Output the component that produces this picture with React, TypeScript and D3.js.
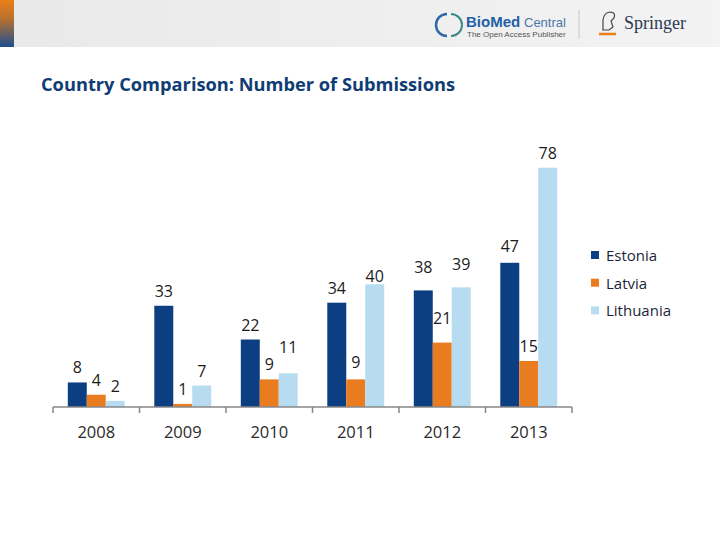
import React from 'react'
import * as d3 from 'd3'

const years = ['2008', '2009', '2010', '2011', '2012', '2013']
const countries = ['Estonia', 'Latvia', 'Lithuania']
const estonia = [8, 33, 22, 34, 38, 47]
const latvia = [4, 1, 9, 9, 21, 15]
const lithuania = [2, 7, 11, 40, 39, 78]
const colors = ['#0b3f82', '#e97c1f', '#b7dcf2']

// extra lift (px) for labels that were moved by hand in the original
const labelNudge = [
  [0, 0, 0],
  [0, 0, 0],
  [0, 0, 11],
  [0, 2, -7],
  [8, 10, 8],
  [2, 0, 0],
]

const W = 720
const H = 540

export default function App() {
  const series = [estonia, latvia, lithuania]
  const x0 = d3.scaleBand<string>().domain(years).range([53, 572])
  const x1 = d3.scaleBand<string>().domain(countries).range([0, x0.bandwidth()]).paddingOuter(0.78)
  const y = d3.scaleLinear().domain([0, 78]).range([407, 407 - 78 * 3.068])
  const base = y(0)

  const font = "'Open Sans', 'DejaVu Sans', sans-serif"

  return (
    <div style={{ position: 'absolute', left: 0, top: 0 }}>
      <svg width={W} height={H} style={{ display: 'block', background: '#fff' }}>
        <defs>
          <linearGradient id="hdr" x1="0" y1="0" x2="1" y2="0">
            <stop offset="0%" stopColor="#e9e9e9" />
            <stop offset="100%" stopColor="#f3f3f3" />
          </linearGradient>
          <linearGradient id="strip" x1="0" y1="0" x2="0" y2="1">
            <stop offset="0%" stopColor="#ea7f18" />
            <stop offset="40%" stopColor="#b8712f" />
            <stop offset="100%" stopColor="#1d4f8e" />
          </linearGradient>
        </defs>

        {/* header band */}
        <rect x={0} y={0} width={W} height={47} fill="url(#hdr)" />
        <rect x={0} y={0} width={14} height={47} fill="url(#strip)" />

        {/* BioMed Central logo */}
        <g>
          <path d="M447,14 A11,11 0 0,0 447,36" fill="none" stroke="#2a6aa8" strokeWidth={2.5} />
          <path d="M451,14 A11,11 0 0,1 451,36" fill="none" stroke="#3a8a8a" strokeWidth={2} />
          <text x={466} y={27} fontFamily="'Liberation Sans', Arial, sans-serif" fontSize={15} fontWeight="bold" fill="#1f5fa6">BioMed</text>
          <text x={524} y={27} fontFamily="'Liberation Sans', Arial, sans-serif" fontSize={13} fill="#4a78a8">Central</text>
          <text x={467} y={37} fontFamily="'Liberation Sans', Arial, sans-serif" fontSize={8} fill="#555">The Open Access Publisher</text>
        </g>
        <line x1={579} x2={579} y1={10} y2={39} stroke="#c8c8c8" strokeWidth={1} />
        {/* Springer logo */}
        <g>
          <path d="M603,30 L603,20 Q604,12 611,12 Q616,13 614,18 L611,21 L613,27 L609,30 Z" fill="none" stroke="#444" strokeWidth={1.2} />
          <line x1={599} x2={616} y1={34} y2={34} stroke="#e8801c" strokeWidth={2.5} />
          <text x={624} y={29} fontFamily="'Liberation Serif', 'DejaVu Serif', serif" fontSize={19} fill="#2c3a52" textLength={62} lengthAdjust="spacingAndGlyphs">Springer</text>
        </g>

        {/* title */}
        <text x={41} y={91} fontFamily={font} fontSize={18} fontWeight="bold" fill="#0f3d73" textLength={414} lengthAdjust="spacingAndGlyphs">
          Country Comparison: Number of Submissions
        </text>

        {/* bars */}
        {years.map((yr, i) => (
          <g key={yr} transform={`translate(${x0(yr)},0)`}>
            {countries.map((c, j) => {
              const v = series[j][i]
              const bx = x1(c) as number
              return (
                <g key={c}>
                  <rect x={bx} y={y(v)} width={x1.bandwidth()} height={base - y(v)} fill={colors[j]} />
                  <text
                    x={bx + x1.bandwidth() / 2}
                    y={y(v) - 15 - labelNudge[i][j]}
                    textAnchor="middle"
                    dominantBaseline="central"
                    fontFamily={font}
                    fontSize={16}
                    fill="#1c1c1c"
                  >
                    {v}
                  </text>
                </g>
              )
            })}
          </g>
        ))}

        {/* category axis */}
        <line x1={53} x2={572} y1={base} y2={base} stroke="#878787" strokeWidth={1.5} />
        {years.map(yr => (
          <line key={'t' + yr} x1={x0(yr)} x2={x0(yr)} y1={base} y2={base + 6} stroke="#878787" strokeWidth={1.5} />
        ))}
        <line x1={572} x2={572} y1={base} y2={base + 6} stroke="#878787" strokeWidth={1.5} />
        {years.map(yr => (
          <text
            key={'l' + yr}
            x={(x0(yr) as number) + x0.bandwidth() / 2}
            y={431}
            textAnchor="middle"
            dominantBaseline="central"
            fontFamily={font}
            fontSize={16.5}
            fill="#2a2a2a"
          >
            {yr}
          </text>
        ))}

        {/* legend */}
        {countries.map((c, j) => (
          <g key={'lg' + c} transform={`translate(591, ${255 + j * 27.7})`}>
            <rect x={0} y={-4} width={8} height={8} fill={colors[j]} />
            <text x={15} y={0} dominantBaseline="central" fontFamily={font} fontSize={15} fill="#1b1f3a">{c}</text>
          </g>
        ))}
      </svg>
    </div>
  )
}
